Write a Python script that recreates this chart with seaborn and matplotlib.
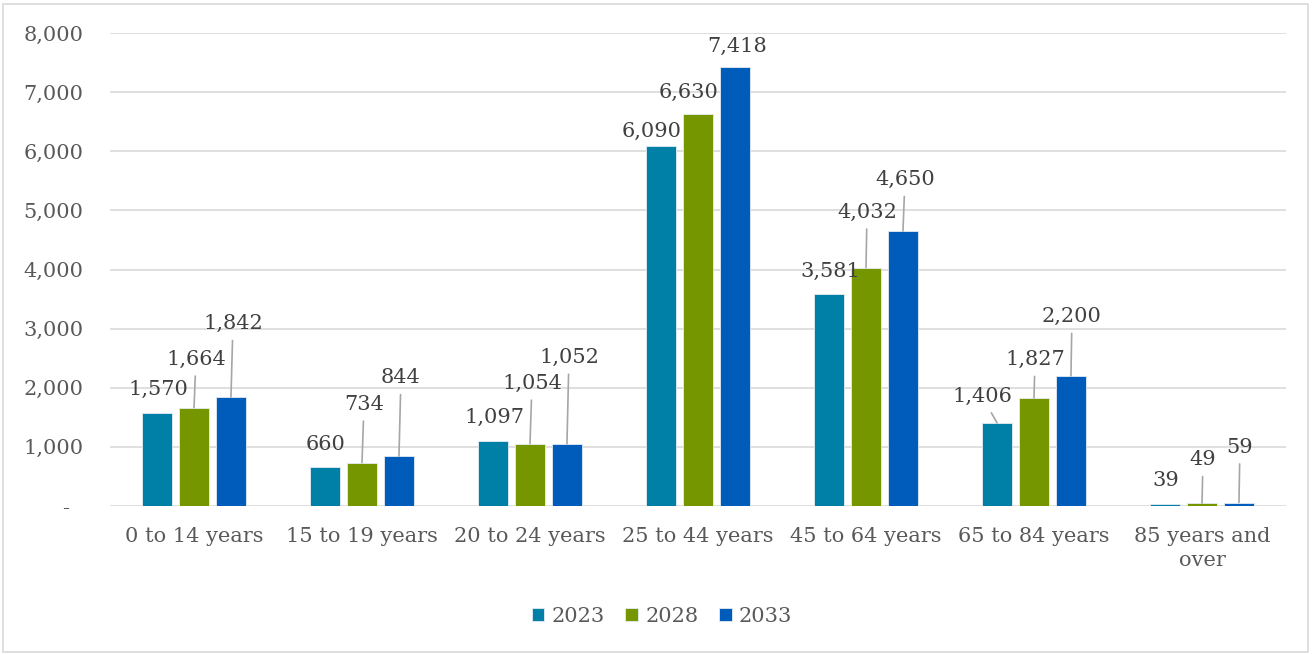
import matplotlib
matplotlib.use("Agg")
import matplotlib.pyplot as plt
from matplotlib.patches import Rectangle
from matplotlib.ticker import FuncFormatter
import pandas as pd
import seaborn as sns


AGE_GROUPS = [
    "0 to 14 years",
    "15 to 19 years",
    "20 to 24 years",
    "25 to 44 years",
    "45 to 64 years",
    "65 to 84 years",
    "85 years and\nover",
]
YEARS = ["2023", "2028", "2033"]
VALUES_2023 = [1570, 660, 1097, 6090, 3581, 1406, 39]
VALUES_2028 = [1664, 734, 1054, 6630, 4032, 1827, 49]
VALUES_2033 = [1842, 844, 1052, 7418, 4650, 2200, 59]
Y_TICKS = [0, 1000, 2000, 3000, 4000, 5000, 6000, 7000, 8000]

COLORS = ["#0080A6", "#769600", "#005CBA"]
GRID = "#D9D9D9"
LEADER = "#A6A6A6"

# label placement (dx, dy) in pixels from the top centre of a bar to the label baseline,
# as the labels were dragged around in the original
LABEL_OFFSETS = {
    "2023": [(1, -18), (1, -17), (1, -18), (-9, -9), (1, -17), (-15, -21), (1, -18)],
    "2028": [(2, -43), (2, -53), (2, -55), (-9, -16), (1, -50), (1, -33), (1, -38)],
    "2033": [(2, -68), (2, -73), (2, -81), (2, -16), (2, -46), (1, -54), (1, -50)],
}


def build_frame() -> pd.DataFrame:
    series = {"2023": VALUES_2023, "2028": VALUES_2028, "2033": VALUES_2033}
    rows = []
    for year in YEARS:
        for age, value in zip(AGE_GROUPS, series[year]):
            rows.append({"age": age, "year": year, "value": value})
    return pd.DataFrame(rows)


def y_label(v, _pos):
    return "-  " if v == 0 else f"{v:,.0f}"


def main() -> None:
    sns.set_style("white")
    plt.rcParams["font.family"] = ["DejaVu Serif"]
    fontsize = 15

    df = build_frame()
    fig = plt.figure(figsize=(13.14, 6.54), dpi=100)
    ax = fig.add_axes([110 / 1314, 148 / 654, 1176 / 1314, 473 / 654])

    sns.barplot(
        data=df,
        x="age",
        y="value",
        hue="year",
        order=AGE_GROUPS,
        hue_order=YEARS,
        palette=COLORS,
        saturation=1,
        width=0.66,
        gap=0.19,
        edgecolor="#E4ECF2",
        linewidth=0.6,
        errorbar=None,
        ax=ax,
    )

    ax.set_ylim(0, 8000)
    ax.set_xlim(-0.5, len(AGE_GROUPS) - 0.5)
    ax.set_yticks(Y_TICKS)
    ax.yaxis.set_major_formatter(FuncFormatter(y_label))
    ax.yaxis.grid(True, color=GRID, linewidth=1.2)
    ax.set_axisbelow(True)
    for spine in ax.spines.values():
        spine.set_visible(False)
    ax.tick_params(axis="y", length=0, pad=19, labelsize=fontsize, labelcolor="#595959")
    ax.tick_params(axis="x", length=0, pad=15, labelsize=fontsize, labelcolor="#595959")
    for lbl in ax.get_xticklabels():
        lbl.set_linespacing(1.35)
    ax.set_xlabel("")
    ax.set_ylabel("")

    for year, container in zip(YEARS, ax.containers):
        for bar, (dx, dy) in zip(container, LABEL_OFFSETS[year]):
            x = bar.get_x() + bar.get_width() / 2
            h = bar.get_height()
            arrow = None
            if dy < -25 or dx < -12:
                arrow = dict(arrowstyle="-", color=LEADER, lw=1.2, shrinkA=3, shrinkB=0)
            ax.annotate(
                f"{h:,.0f}",
                xy=(x, h),
                xytext=(dx, -dy),
                textcoords="offset pixels",
                ha="center",
                va="baseline",
                fontsize=fontsize,
                color="#404040",
                arrowprops=arrow,
            )

    handles, labels = ax.get_legend_handles_labels()
    ax.legend_.remove()
    fig.legend(
        handles,
        labels,
        loc="center",
        bbox_to_anchor=(662 / 1314, 1 - 616 / 654),
        ncol=3,
        frameon=False,
        fontsize=fontsize,
        handlelength=0.6,
        handleheight=0.6,
        handletextpad=0.35,
        columnspacing=1.0,
        labelcolor="#595959",
    )

    fig.patches.append(
        Rectangle(
            (3 / 1314, 2 / 654),
            1305 / 1314,
            648 / 654,
            transform=fig.transFigure,
            fill=False,
            edgecolor=GRID,
            linewidth=1.2,
        )
    )

    fig.savefig("out.png", dpi=100, facecolor="white")
    plt.close(fig)


if __name__ == "__main__":
    main()
